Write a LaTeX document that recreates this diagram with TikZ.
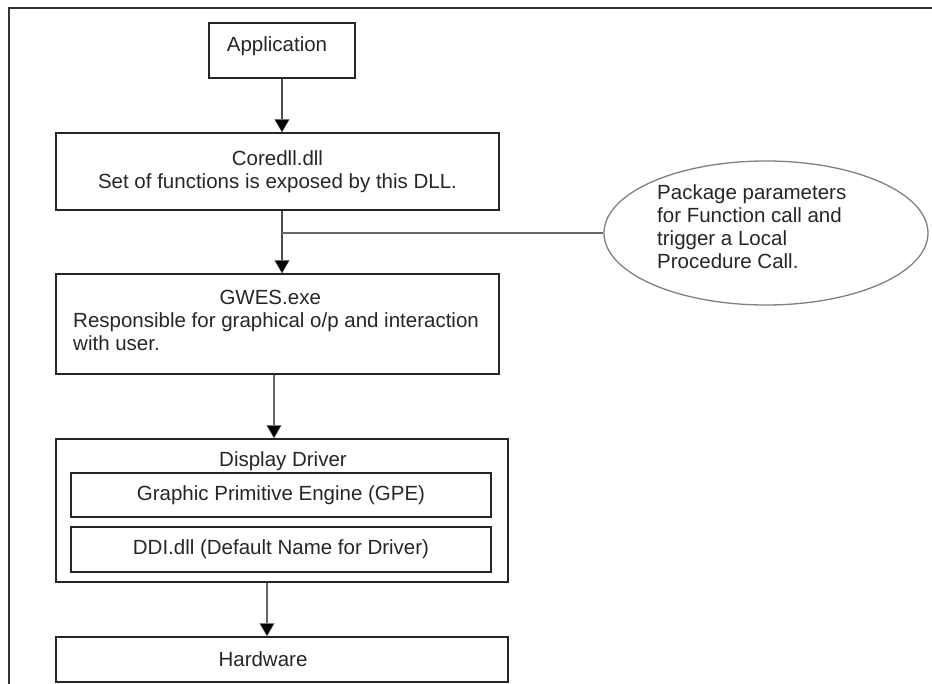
\documentclass[tikz,border=0pt]{standalone}
\usepackage{fontspec}
\setmainfont{Liberation Sans}
\usetikzlibrary{arrows.meta,shapes.geometric}

\begin{document}
\begin{tikzpicture}[x=1pt,y=-1pt,
  box/.style={draw=black!85, line width=1.4pt, rectangle, inner sep=0pt,
              font=\fontsize{20.5}{23}\selectfont, text=black!85},
  txt/.style={inner sep=0pt, font=\fontsize{20.5}{23}\selectfont, text=black!85},
  head/.style={-{Triangle[width=15pt,length=13pt,fill=black,line width=0.5pt]}},
  flow/.style={draw=black!70, line width=1.7pt, head},
  thinflow/.style={draw=black!60, line width=1.2pt, head},
  branch/.style={draw=black!60, line width=1.7pt},
  frame/.style={draw=black!80, line width=1.5pt},
  bubble/.style={ellipse, draw=black!50, line width=1.3pt, inner sep=0pt}
]
\useasboundingbox (0,0) rectangle (932,684);

% outer frame (top and left edges only)
\draw[frame] (932,8) -- (9,8) -- (9,684);

% layers of the graphics stack
\node[box, minimum width=146pt, minimum height=55pt] (app) at (282,50.5) {};
\node[txt] (apptext) at (277,46) {Application};

\node[box, minimum width=443pt, minimum height=77pt, align=center] (core) at (277.5,171.5)
  {Coredll.dll\\Set of functions is exposed by this DLL.};

\node[box, minimum width=443pt, minimum height=100pt] (gwes) at (277.5,324) {};
\node[txt, align=left, anchor=west] (gwestext) at (73,320)
  {\makebox[394pt]{GWES.exe}\\Responsible for graphical o/p and interaction\\with user.};

\node[box, minimum width=452pt, minimum height=143pt] (dd) at (282,510.5) {};
\node[txt] (ddtitle) at (283,461) {Display Driver};
\node[box, minimum width=420pt, minimum height=44pt] (gpe) at (281,495) {Graphic Primitive Engine (GPE)};
\node[box, minimum width=420pt, minimum height=45pt] (ddi) at (281,549.5) {DDI.dll (Default Name for Driver)};

\node[box, minimum width=452pt, minimum height=45pt] (hw) at (282,659.5) {};
\node[txt] (hwtext) at (263,659) {Hardware};

% call-out bubble
\node[bubble, minimum width=324pt, minimum height=144pt] (note) at (766,233) {};
\node[txt, align=left, anchor=west] (notetext) at (657,226.5)
  {Package parameters\\for Function call and\\trigger a Local\\Procedure Call.};

% connectors
\draw[flow] (app.south) -- (app.south |- core.north);
\coordinate (coreout) at (app.south |- core.south);
\coordinate (tap) at (282,233);
\draw[flow] (coreout) -- (coreout |- gwes.north);
\draw[branch] (tap) -- (note.west);
\draw[thinflow] ([xshift=-3.5pt]gwes.south) -- ([xshift=-3.5pt]gwes.south |- dd.north);
\draw[thinflow] ([xshift=-15pt]dd.south) -- ([xshift=-15pt]dd.south |- hw.north);
\end{tikzpicture}
\end{document}
